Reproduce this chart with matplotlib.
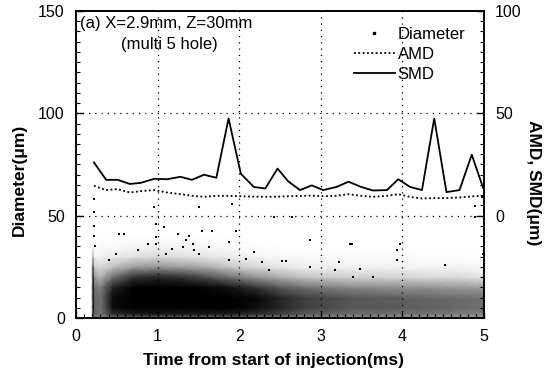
import numpy as np
import matplotlib
matplotlib.use("Agg")
import matplotlib.pyplot as plt
from matplotlib.lines import Line2D
from matplotlib.colors import LinearSegmentedColormap
from matplotlib.ticker import MultipleLocator

plt.rcParams['font.family'] = ['Liberation Sans', 'DejaVu Sans']

# ---- AMD / SMD series (right axis, um) ----
mean_t = [0.22, 0.37, 0.51, 0.66, 0.79, 0.96, 1.12, 1.28, 1.42, 1.57, 1.72,
          1.87, 2.02, 2.18, 2.32, 2.47, 2.60, 2.745, 2.89, 3.03, 3.19, 3.34,
          3.49, 3.64, 3.81, 3.95, 4.09, 4.24, 4.39, 4.54, 4.70, 4.85, 4.99]
smd = [26.0, 17.5, 17.5, 15.5, 16.0, 18.0, 17.8, 19.0, 17.5, 20.0, 18.5,
       47.5, 20.5, 14.0, 13.3, 23.0, 16.8, 12.5, 14.8, 12.5, 14.0, 16.6,
       14.1, 12.3, 12.5, 17.8, 14.1, 12.5, 47.5, 11.5, 12.5, 29.8, 13.5]
amd = [14.6, 12.5, 13.0, 11.3, 12.0, 12.5, 11.3, 10.5, 9.7, 9.2, 9.7,
       9.7, 9.5, 9.3, 9.2, 9.3, 9.5, 9.6, 9.8, 9.5, 9.7, 10.5,
       9.7, 9.2, 9.7, 10.5, 9.2, 8.4, 8.6, 8.6, 8.9, 9.4, 9.7]

# ---- droplet cloud: darkness (dot coverage) read on a grid ----
cloud_t = [0.19, 0.21, 0.23, 0.3, 0.45, 0.7, 1.0, 1.3, 1.6, 1.9, 2.2, 2.5,
           2.8, 3.1, 3.4, 3.7, 4.0, 4.3, 4.6, 4.9, 5.0]
cloud_d = [0, 2, 5, 10, 15, 20, 25, 30, 35, 40]
cloud_cover = [
    [0, .65, .5, .45, .55, .6, .6, .6, .6, .6, .55, .5, .45, .42, .4, .4, .38, .38, .36, .35, .35],
    [0, .85, .6, .55, .8, .9, .9, .9, .9, .88, .82, .75, .65, .6, .58, .58, .55, .55, .52, .5, .5],
    [0, .95, .6, .55, .95, 1, 1, 1, 1, 1, .95, .85, .75, .7, .66, .65, .64, .62, .6, .58, .58],
    [0, .95, .6, .55, .95, 1, 1, 1, 1, 1, .97, .85, .75, .7, .66, .64, .62, .6, .58, .56, .56],
    [0, .95, .55, .5, .85, 1, 1, 1, .98, .92, .8, .65, .55, .5, .46, .45, .43, .42, .4, .38, .38],
    [0, .9, .4, .3, .55, .8, .85, .8, .7, .55, .42, .32, .24, .2, .18, .18, .17, .15, .15, .12, .12],
    [0, .75, .2, .15, .25, .38, .42, .38, .32, .22, .15, .1, .07, .06, .05, .05, .05, .04, .04, .03, .03],
    [0, .3, .05, .05, .08, .12, .15, .12, .1, .07, .05, .03, .02, .02, .02, .02, .02, .01, .01, .01, .01],
    [0, .05, 0, .02, .02, .04, .05, .04, .03, .02, .01, 0, 0, 0, 0, 0, 0, 0, 0, 0, 0],
    [0] * 21,
]

# ---- isolated large droplets above the cloud ----
drop_t = [0.22, 0.22, 0.22, 0.22, 0.23, 0.53, 0.59, 0.98, 0.98, 0.98, 0.95,
          1.08, 1.25, 1.35, 1.39, 1.43, 1.51, 1.55, 1.51, 0.88, 0.76, 0.49,
          0.41, 1.18, 1.10, 1.31, 1.45, 1.63, 1.67,
          1.91, 1.96, 1.88, 2.18, 1.88, 2.08, 2.28, 2.53, 2.57, 2.43, 2.87,
          2.87, 3.22, 3.36, 3.18, 2.37, 2.65,
          3.38, 3.48, 3.93, 3.93, 3.97, 4.52, 4.99, 4.89, 4.89, 4.97, 3.64, 3.40]
drop_d = [58, 52, 45, 40, 35, 41.1, 41.1, 46, 39.5, 36.2, 54,
          44.3, 41, 37.9, 40.3, 36, 54, 42.7, 31.4, 36.2, 33, 31.4,
          28.1, 33.8, 31.4, 34.6, 33, 34.6, 42.7,
          55.7, 42.7, 37, 32.2, 28.2, 29, 27.3, 27.8, 28, 49.2, 37.9,
          24.9, 27.3, 36.2, 23.3, 23.3, 49.2,
          36.2, 24, 33, 28.2, 36.2, 25.7, 31.4, 54.8, 49.2, 58.9, 20, 20]

fig = plt.figure(figsize=(5.49, 3.76), dpi=100)
ax = fig.add_axes([0.1384, 0.1543, 0.7432, 0.8164])
ax2 = ax.twinx()

cmap = LinearSegmentedColormap.from_list('cover', ['white', 'black'])
T, D = np.meshgrid(cloud_t, cloud_d)
ax.pcolormesh(T, D, np.array(cloud_cover), cmap=cmap, vmin=0, vmax=1,
              shading='gouraud', zorder=1, antialiased=False)
ax.scatter(drop_t, drop_d, s=2.5, c='black', marker='s', linewidths=0, zorder=2)

ax.set_xlim(0, 5)
ax.set_ylim(0, 150)
ax.set_xticks([0, 1, 2, 3, 4, 5])
ax.set_yticks([0, 50, 100, 150])
ax.xaxis.set_minor_locator(MultipleLocator(0.1))
ax.yaxis.set_minor_locator(MultipleLocator(5))
ax.tick_params(which='both', direction='in', top=False, right=False,
               labelsize=11.5, colors='black')
ax.tick_params(which='major', length=5, width=1)
ax.tick_params(which='minor', length=3, width=0.8)
ax.tick_params(axis='x', pad=8)
ax.tick_params(axis='y', pad=8)

for v in [1, 2, 3, 4]:
    ax.axvline(v, color='black', lw=0.9, ls=(0, (1, 4)), zorder=3)
for v in [50, 100]:
    ax.axhline(v, color='black', lw=0.9, ls=(0, (1, 4)), zorder=3)

ax2.plot(mean_t, amd, color='black', lw=1.3, ls=(0, (1, 1.4)), zorder=4)
ax2.plot(mean_t, smd, color='black', lw=1.3, ls='-', zorder=4)
ax2.set_ylim(-50, 100)
ax2.set_yticks([0, 50, 100])
ax2.yaxis.set_minor_locator(MultipleLocator(5))
ax2.tick_params(which='both', direction='in', labelsize=11.5, pad=8)
ax2.tick_params(which='major', length=5, width=1)
ax2.tick_params(which='minor', length=3, width=0.8)

for a in (ax, ax2):
    for s in a.spines.values():
        s.set_linewidth(1.2)

ax.set_xlabel('Time from start of injection(ms)', fontsize=12.5, fontweight='bold')
ax.xaxis.set_label_coords(0.485, -0.115)
ax.set_ylabel('Diameter(μm)', fontsize=12.5, fontweight='bold')
ax.yaxis.set_label_coords(-0.12, 0.45)
ax2.set_ylabel('AMD, SMD(μm)', fontsize=12.5, fontweight='bold', rotation=270)
ax2.yaxis.set_label_coords(1.14, 0.44)

ax.text(0.01, 0.985, '(a) X=2.9mm, Z=30mm', transform=ax.transAxes,
        fontsize=12, va='top', ha='left')
ax.text(0.23, 0.915, '(multi 5 hole)', transform=ax.transAxes,
        fontsize=12, va='top', ha='center')

handles = [Line2D([], [], color='black', marker='s', markersize=1.5, lw=0),
           Line2D([], [], color='black', lw=1.3, ls=(0, (1, 1.4))),
           Line2D([], [], color='black', lw=1.3)]
ax2.legend(handles, ['Diameter', 'AMD', 'SMD'], loc='upper right',
           bbox_to_anchor=(0.975, 0.975), frameon=False, fontsize=12,
           borderpad=0, handlelength=2.5, handletextpad=0.15, labelspacing=0.3)

fig.savefig('out.png', dpi=100)
